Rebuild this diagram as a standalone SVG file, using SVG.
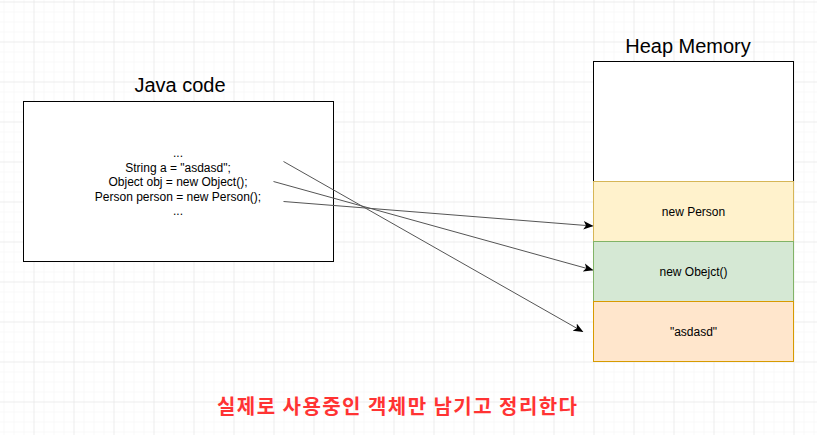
<svg xmlns="http://www.w3.org/2000/svg" width="817" height="435" viewBox="0 0 817 435">
<style>
.t{font-family:"Liberation Sans",Arial,sans-serif;fill:#000;text-anchor:middle}
.code{font-size:12px}
.title{font-size:20px}
.box{stroke-width:1}
.conn{stroke:#555;stroke-width:1;fill:none;marker-end:url(#arr)}
</style>
<defs>
<pattern id="minor" x="3.5" y="1.5" width="10" height="10" patternUnits="userSpaceOnUse">
<path d="M0 0H10M0 0V10" stroke="#f3f3f3" stroke-width="1" fill="none"/>
</pattern>
<pattern id="major" x="33.5" y="1.5" width="40" height="40" patternUnits="userSpaceOnUse">
<path d="M0 0H40M0 0V40" stroke="#e4e4e4" stroke-width="1" fill="none"/>
</pattern>
<marker id="arr" viewBox="0 0 10 10" refX="9" refY="5" markerWidth="10" markerHeight="10" markerUnits="userSpaceOnUse" orient="auto">
<path d="M0 0.8L10 5L0 9.2L2.5 5Z" fill="#000"/>
</marker>
</defs>
<rect width="817" height="435" fill="#fff"/>
<rect width="817" height="435" fill="url(#minor)"/>
<rect width="817" height="435" fill="url(#major)"/>

<g id="java-code">
<text class="t title" x="180" y="92">Java code</text>
<rect class="box" x="23.5" y="101.5" width="310" height="160" fill="#fff" stroke="#000"/>
<text class="t code" x="178" y="157">...</text>
<text class="t code" x="178" y="171.5">String a = "asdasd";</text>
<text class="t code" x="178" y="186">Object obj = new Object();</text>
<text class="t code" x="178" y="200.5">Person person = new Person();</text>
<text class="t code" x="178" y="215">...</text>
</g>

<g id="heap-memory">
<text class="t title" x="688" y="53">Heap Memory</text>
<rect class="box" x="593.5" y="61.5" width="200" height="120" fill="#fff" stroke="#000"/>
</g>
<g id="new-person">
<rect class="box" x="593.5" y="181.5" width="200" height="60" fill="#fff2cc" stroke="#d6b656"/>
<text class="t code" x="693.5" y="216">new Person</text>
</g>
<g id="new-object">
<rect class="box" x="593.5" y="241.5" width="200" height="60" fill="#d5e8d4" stroke="#82b366"/>
<text class="t code" x="693.5" y="276">new Obejct()</text>
</g>
<g id="asdasd">
<rect class="box" x="593.5" y="301.5" width="200" height="60" fill="#ffe6cc" stroke="#d79b00"/>
<text class="t code" x="693.5" y="336">"asdasd"</text>
</g>

<g id="connectors">
<line class="conn" x1="283.5" y1="161.5" x2="582.5" y2="331.5"/>
<line class="conn" x1="273.5" y1="181.5" x2="592.5" y2="270"/>
<line class="conn" x1="283.5" y1="201.5" x2="592.5" y2="226"/>
</g>

<g id="note">
<text x="217" y="414" textLength="360" lengthAdjust="spacing" font-family="'Noto Sans CJK KR','Noto Sans',sans-serif" font-size="20" font-weight="bold" fill="#ff3333">실제로 사용중인 객체만 남기고 정리한다</text>
</g>
</svg>
